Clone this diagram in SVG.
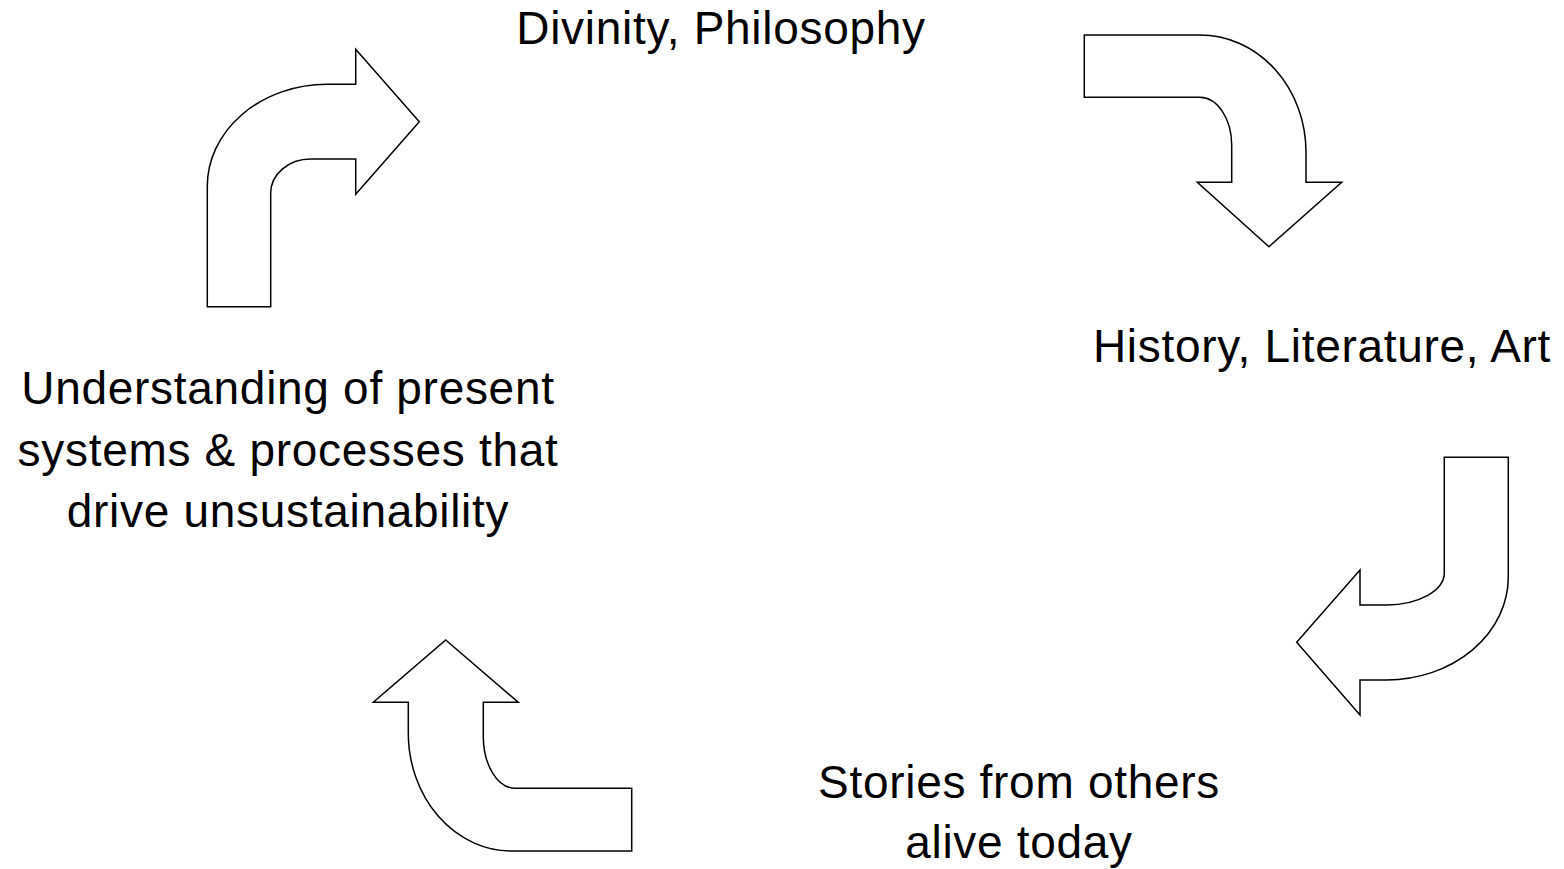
<svg xmlns="http://www.w3.org/2000/svg" width="1564" height="869" viewBox="0 0 1564 869">
<style>
.lbl{font-family:"Liberation Sans",Arial,sans-serif;font-size:46px;letter-spacing:0.7px;fill:#000;text-anchor:middle}
.arr{fill:#fff;stroke:#000;stroke-width:1.5;stroke-linejoin:miter}
</style>
<rect width="1564" height="869" fill="#fff"/>
<g id="node-divinity"><text class="lbl" x="721" y="44">Divinity, Philosophy</text></g>
<g id="node-history"><text class="lbl" x="1322" y="362">History, Literature, Art</text></g>
<g id="node-stories"><text class="lbl" x="1019" y="798">Stories from others</text><text class="lbl" x="1019" y="858">alive today</text></g>
<g id="node-understanding"><text class="lbl" x="288" y="404">Understanding of present</text><text class="lbl" x="288" y="466">systems &amp; processes that</text><text class="lbl" x="288" y="527">drive unsustainability</text></g>
<g id="connectors">
<path class="arr" d="M207.3,306.7 L207.3,186.7 A120,102 0 0 1 326.7,84.3 L355.7,84.3 L355.7,49.3 L419.3,121.7 L355.7,194.3 L355.7,159 L310.7,159 A40,34 0 0 0 270.7,193.3 L270.7,306.7 Z"/>
<path class="arr" d="M1084.3,35 L1200,35 A106,117 0 0 1 1306,152 L1306,182.3 L1341.7,182.3 L1269,246.7 L1197.3,182.3 L1231.7,182.3 L1231.7,145 A32,48 0 0 0 1200,97.3 L1084.3,97.3 Z"/>
<path class="arr" d="M1444.3,457.3 L1508.3,457.3 L1508.3,576.7 A122,103 0 0 1 1386.7,680 L1360,680 L1360,715 L1296.7,642.3 L1360,570 L1360,605 L1386.7,605 A58,32 0 0 0 1444.3,573.3 Z"/>
<path class="arr" d="M445.7,640 L518.3,702.3 L483.3,702.3 L483.3,736.7 A32,52 0 0 0 515,788.3 L631.7,788.3 L631.7,851 L511.7,851 A103,118 0 0 1 408.3,733 L408.3,702.3 L373.3,702.3 Z"/>
</g>
</svg>
